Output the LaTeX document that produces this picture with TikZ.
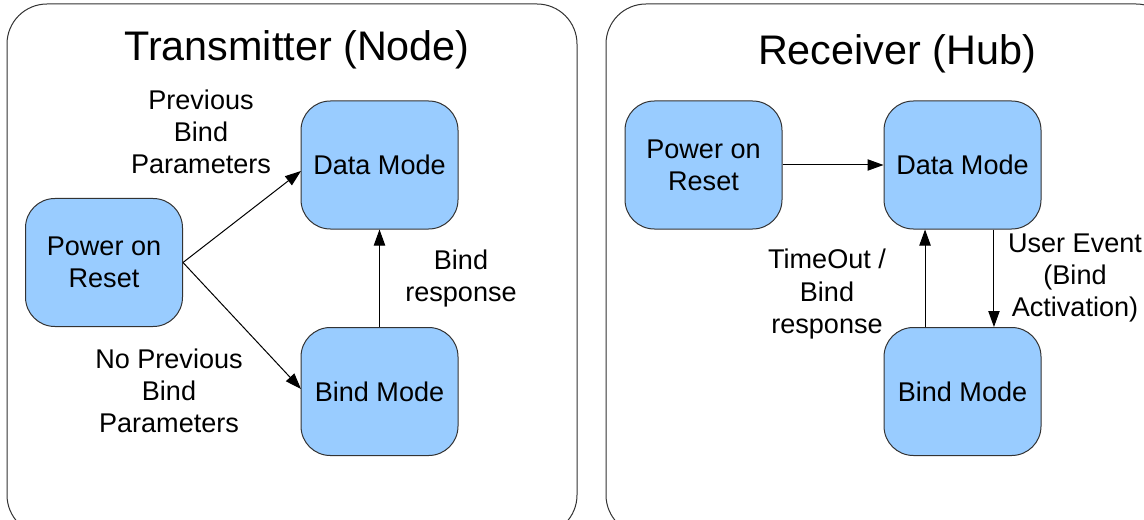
\documentclass[tikz,border=0pt]{standalone}
\usepackage{fontspec}
\setmainfont{Liberation Sans}
\usetikzlibrary{arrows.meta}
\definecolor{boxblue}{HTML}{99CCFF}
\definecolor{framegray}{HTML}{333333}
\begin{document}
\begin{tikzpicture}[x=0.75pt,y=-0.75pt,
  statebox/.style={draw=framegray,fill=boxblue,line width=0.75pt,rounded corners=22pt,
    minimum width=117.75pt,minimum height=96pt,align=center,inner sep=0pt,
    font=\fontsize{20.3}{24}\selectfont},
  lbl/.style={align=center,inner sep=0pt,font=\fontsize{20.3}{24}\selectfont},
  ttl/.style={inner sep=0pt,font=\fontsize{31}{36}\selectfont},
  frame/.style={draw=framegray,line width=0.75pt,rounded corners=30pt},
  conn/.style={draw=black,line width=0.75pt,-{Triangle[length=12pt,width=8.5pt]}}]
\useasboundingbox (0,0) rectangle (1144,520);
\clip (0,0) rectangle (1144,520);
\fill[white] (0,0) rectangle (1144,520);
% frames
\draw[frame] (7,4) rectangle (577,535);
\draw[frame] (606,4) rectangle (1176,535);
% titles
\node[ttl] (t1) at (297,50) {Transmitter (Node)};
\node[ttl] (t2) at (897,54) {Receiver (Hub)};
% left panel
\node[statebox] (porL) at (104,262.5) {Power on\\Reset};
\node[statebox] (dataL) at (379.5,165) {Data Mode};
\node[statebox] (bindL) at (379.5,391.5) {Bind Mode};
\coordinate (dLin) at (301,171);
\coordinate (bLin) at (301,389);
\draw[conn] (porL.east) -- (dLin);
\draw[conn] (porL.east) -- (bLin);
\draw[conn] (bindL.north) -- (dataL.south);
\node[lbl] (l1) at (201,132) {Previous\\Bind\\Parameters};
\node[lbl] (l2) at (169,391) {No Previous\\Bind\\Parameters};
\node[lbl] (l3) at (461,278.5) {Bind\\response};
% right panel
\node[statebox] (porR) at (703.5,165) {Power on\\Reset};
\node[statebox] (dataR) at (962.5,165) {Data Mode};
\node[statebox] (bindR) at (962.5,391.5) {Bind Mode};
\draw[conn] (porR.east) -- (dataR.west);
\draw[conn] ([xshift=-28.1pt]bindR.north) -- ([xshift=-28.1pt]dataR.south);
\draw[conn] ([xshift=23.6pt]dataR.south) -- ([xshift=23.6pt]bindR.north);
\node[lbl] (l4) at (827,294) {TimeOut /\\Bind\\response};
\node[lbl] (l5) at (1075,278) {User Event\\(Bind\\Activation)};
\end{tikzpicture}
\end{document}
